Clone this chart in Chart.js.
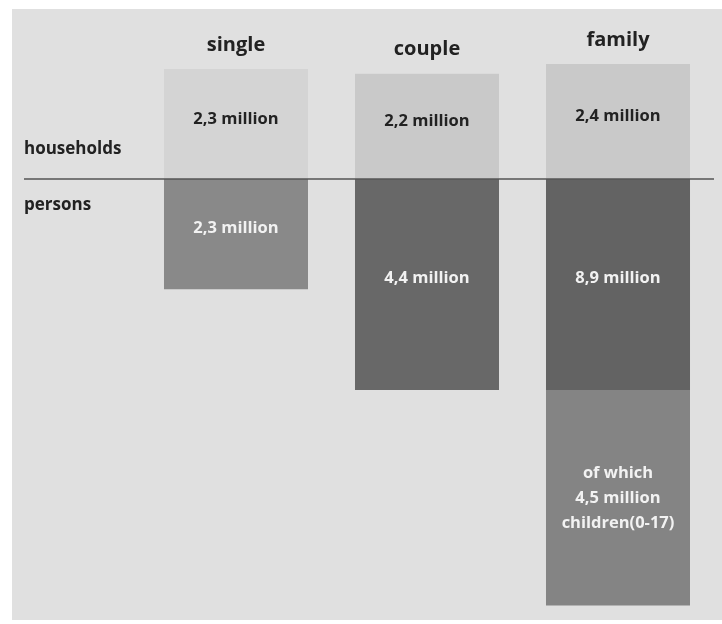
<!DOCTYPE html>
<html>
<head>
<meta charset="utf-8">
<script src="https://cdn.jsdelivr.net/npm/chart.js@4/dist/chart.umd.min.js"></script>
<style>
  html, body { margin: 0; padding: 0; background: #ffffff; }
  #wrap { width: 722px; height: 624px; }
</style>
</head>
<body>
<div id="wrap"><canvas id="chart"></canvas></div>
<script>
'use strict';

// household types
const categories = ['single', 'couple', 'family'];
// households per type, million
const households = [2.3, 2.2, 2.4];
// persons per type, million
const persons = [2.3, 4.4, 8.9];
// of which children (0-17), million
const children = [0, 0, 4.5];
// adults = persons minus children
const adults = persons.map((p, i) => +(p - children[i]).toFixed(1));

const householdColors = ['#d4d4d4', '#c9c9c9', '#c9c9c9'];
const adultColors = ['#898989', '#686868', '#636363'];
const childColor = '#848484';

const FONT = '"Open Sans", "DejaVu Sans", sans-serif';

function fmt(v) {
  return v.toFixed(1).replace('.', ',') + ' million';
}

// light panel, base line and all the texts
const decor = {
  id: 'decor',
  beforeDraw(chart) {
    const ctx = chart.ctx;
    ctx.save();
    ctx.fillStyle = '#e0e0e0';
    ctx.fillRect(12, 9, 710, 611);
    ctx.restore();
  },
  afterDatasetsDraw(chart) {
    const ctx = chart.ctx;
    const y = chart.scales.y;
    const zero = y.getPixelForValue(0);
    ctx.save();

    ctx.strokeStyle = '#555555';
    ctx.lineWidth = 1.5;
    ctx.beginPath();
    ctx.moveTo(24, zero);
    ctx.lineTo(714, zero);
    ctx.stroke();

    ctx.textBaseline = 'middle';
    ctx.fillStyle = '#222222';
    ctx.font = 'bold 17px ' + FONT;
    ctx.textAlign = 'left';
    ctx.fillText('households', 24, zero - 30);
    ctx.fillText('persons', 24, zero + 26);

    const hh = chart.getDatasetMeta(0).data;
    const ad = chart.getDatasetMeta(1).data;
    const ch = chart.getDatasetMeta(2).data;
    ctx.textAlign = 'center';

    hh.forEach((bar, i) => {
      // category title above the bar
      ctx.fillStyle = '#222222';
      ctx.font = 'bold 20px ' + FONT;
      ctx.fillText(categories[i], bar.x, bar.y - 24);
      // households value
      ctx.font = 'bold 16.5px ' + FONT;
      ctx.fillText(fmt(households[i]), bar.x, (bar.y + bar.base) / 2 - 5);
    });

    ad.forEach((bar, i) => {
      ctx.fillStyle = '#f2f2f2';
      ctx.font = 'bold 16.5px ' + FONT;
      ctx.fillText(fmt(persons[i]), bar.x, (bar.y + bar.base) / 2 - 6);
    });

    ch.forEach((bar, i) => {
      if (!children[i]) return;
      const mid = (bar.y + bar.base) / 2;
      const lines = ['of which', fmt(children[i]), 'children(0-17)'];
      ctx.fillStyle = '#f2f2f2';
      ctx.font = 'bold 16.5px ' + FONT;
      lines.forEach((t, k) => ctx.fillText(t, bar.x, mid + (k - 1) * 25));
    });

    ctx.restore();
  }
};

new Chart(document.getElementById('chart'), {
  type: 'bar',
  data: {
    labels: categories,
    datasets: [
      {
        label: 'households',
        data: households,
        backgroundColor: householdColors
      },
      {
        label: 'persons',
        data: adults.map(v => -v),
        backgroundColor: adultColors
      },
      {
        label: 'children',
        data: children.map(v => -v),
        backgroundColor: childColor
      }
    ]
  },
  options: {
    responsive: true,
    maintainAspectRatio: false,
    animation: false,
    layout: { padding: { left: 140.5, right: 8.5, top: 9, bottom: 4 } },
    datasets: {
      bar: { categoryPercentage: 1, barPercentage: 0.754, borderWidth: 0 }
    },
    scales: {
      x: { stacked: true, display: false },
      y: { stacked: true, display: false, min: -9.2, max: 3.55 }
    },
    plugins: {
      legend: { display: false },
      tooltip: { enabled: false }
    }
  },
  plugins: [decor]
});
</script>
</body>
</html>
